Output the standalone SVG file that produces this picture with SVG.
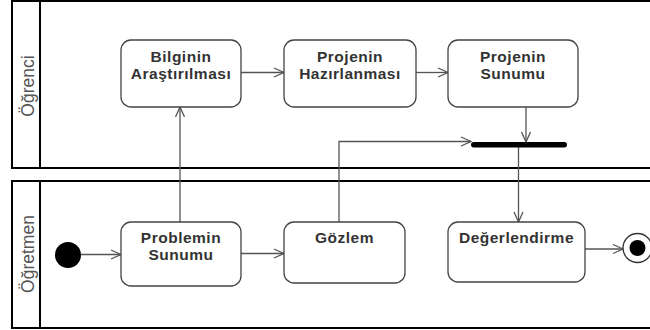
<svg xmlns="http://www.w3.org/2000/svg" width="650" height="330" viewBox="0 0 650 330">
<defs>
<style>
.lane{fill:none;stroke:#000;stroke-width:2}
.lanelbl{font-family:"Liberation Sans",Arial,sans-serif;font-size:17.5px;fill:#555;text-anchor:middle}
.box{fill:#fff;stroke:#444;stroke-width:1.3}
.lbl{font-family:"Liberation Sans",Arial,sans-serif;font-size:15.5px;letter-spacing:0.5px;font-weight:bold;fill:#333;text-anchor:middle}
.edge{fill:none;stroke:#555;stroke-width:1.3}
</style>
<marker id="arr" viewBox="0 0 12 12" refX="11" refY="6" markerWidth="12" markerHeight="12" markerUnits="userSpaceOnUse" orient="auto">
<path d="M1,1.5 L11,6 L1,10.5" fill="none" stroke="#555" stroke-width="1.3"/>
</marker>
</defs>
<rect width="650" height="330" fill="#fff"/>
<g id="lane-ogrenci">
<rect class="lane" x="12" y="1" width="660" height="167"/>
<line class="lane" x1="40" y1="1" x2="40" y2="168"/>
<text class="lanelbl" transform="translate(34,86) rotate(-90)">Öğrenci</text>
</g>
<g id="lane-ogretmen">
<rect class="lane" x="12" y="181" width="660" height="147"/>
<line class="lane" x1="40" y1="181" x2="40" y2="328"/>
<text class="lanelbl" transform="translate(34,254) rotate(-90)">Öğretmen</text>
</g>
<g id="connectors">
<line class="edge" x1="241" y1="72.5" x2="284" y2="72.5" marker-end="url(#arr)"/>
<line class="edge" x1="416" y1="72.5" x2="448" y2="72.5" marker-end="url(#arr)"/>
<line class="edge" x1="526" y1="107" x2="526" y2="142" marker-end="url(#arr)"/>
<line class="edge" x1="180" y1="222" x2="180" y2="107" marker-end="url(#arr)"/>
<line class="edge" x1="81" y1="254.5" x2="121" y2="254.5" marker-end="url(#arr)"/>
<line class="edge" x1="241" y1="253.5" x2="284" y2="253.5" marker-end="url(#arr)"/>
<path class="edge" d="M339,222 V141.5 H471" marker-end="url(#arr)"/>
<line class="edge" x1="518.5" y1="147" x2="518.5" y2="222" marker-end="url(#arr)"/>
<line class="edge" x1="585" y1="249" x2="623" y2="249" marker-end="url(#arr)"/>
</g>
<g id="initial">
<circle cx="68" cy="255" r="13" fill="#000"/>
</g>
<g id="final">
<circle cx="637.5" cy="248" r="14.5" fill="#fff" stroke="#333" stroke-width="1.3"/>
<circle cx="637.5" cy="248" r="8" fill="#000"/>
</g>
<g id="join">
<rect x="471" y="142" width="96" height="5.5" rx="2.75" fill="#000"/>
</g>
<g id="bilginin">
<rect class="box" x="121" y="40" width="120" height="67" rx="10"/>
<text class="lbl" x="181" y="61.5">Bilginin</text>
<text class="lbl" x="181" y="78.5">Araştırılması</text>
</g>
<g id="hazirlanmasi">
<rect class="box" x="284" y="40" width="132" height="67" rx="10"/>
<text class="lbl" x="350" y="61.5">Projenin</text>
<text class="lbl" x="350" y="78.5">Hazırlanması</text>
</g>
<g id="sunumu">
<rect class="box" x="448" y="40" width="130" height="67" rx="10"/>
<text class="lbl" x="513" y="61.5">Projenin</text>
<text class="lbl" x="513" y="78.5">Sunumu</text>
</g>
<g id="problemin">
<rect class="box" x="121" y="222" width="120" height="64" rx="10"/>
<text class="lbl" x="181" y="243">Problemin</text>
<text class="lbl" x="181" y="260">Sunumu</text>
</g>
<g id="gozlem">
<rect class="box" x="284" y="222" width="121" height="61" rx="10"/>
<text class="lbl" x="344.5" y="243">Gözlem</text>
</g>
<g id="degerlendirme">
<rect class="box" x="448" y="222" width="137" height="60" rx="10"/>
<text class="lbl" x="516.5" y="243">Değerlendirme</text>
</g>
</svg>
